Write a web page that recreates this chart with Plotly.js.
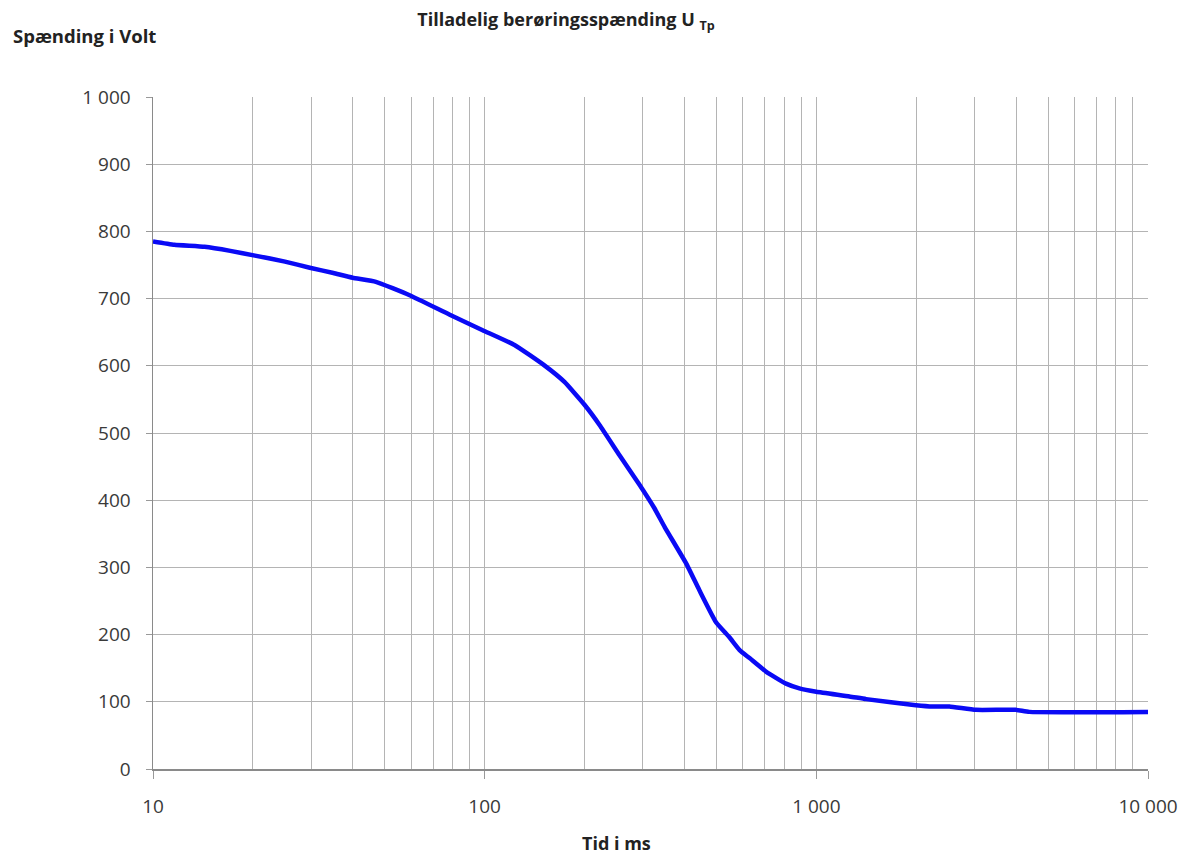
<!DOCTYPE html>
<html>
<head>
<meta charset="utf-8">
<script src="https://cdn.plot.ly/plotly-3.0.1.min.js"></script>
<style>html,body{margin:0;padding:0;background:#fff;}#chart{width:1184px;height:856px;}</style>
</head>
<body>
<div id="chart"></div>
<script>
// Time in ms and permissible touch voltage in V
const timeMs = [10, 11.6, 14.3, 17.1, 20.3, 25, 29.7, 35, 40, 47, 59.4, 78.5, 98.6, 123, 151, 174, 200, 222, 255, 293, 325, 349, 405, 444, 499, 547, 587, 629, 705, 810, 889, 1000, 1259, 1413, 1996, 2250, 2520, 3027, 3990, 4385, 10000];
const voltage = [785, 780, 777, 771, 764, 755, 746, 738, 731, 725, 705, 676, 653, 631, 601, 576, 542, 512, 467, 423, 388, 360, 306, 266, 218, 196, 177, 165, 145, 127, 120, 115, 108, 104, 95, 93, 93, 88, 88, 85, 85];

const xMajor = [10, 100, 1000, 10000];
const xMajorText = ["10", "100", "1 000", "10 000"];
const xMinor = [20,30,40,50,60,70,80,90,200,300,400,500,600,700,800,900,2000,3000,4000,5000,6000,7000,8000,9000];
const yTicks = [0, 100, 200, 300, 400, 500, 600, 700, 800, 900, 1000];
const yTickText = ["0", "100", "200", "300", "400", "500", "600", "700", "800", "900", "1 000"];

const font = "'Open Sans', Lato, sans-serif";
const gridColor = "#b4b4b4";

const trace = {
  x: timeMs, y: voltage, type: "scatter", mode: "lines",
  line: {color: "#0a0af5", width: 4.5, shape: "spline", smoothing: 0.4},
  hoverinfo: "x+y"
};

const layout = {
  width: 1184, height: 856,
  margin: {l: 153, r: 36, t: 97, b: 87},
  paper_bgcolor: "#fff", plot_bgcolor: "#fff",
  showlegend: false,
  font: {family: font, size: 19, color: "#3a3a3a"},
  title: {
    text: "<b>Tilladelig berøringsspænding U <sub>Tp</sub></b>",
    font: {family: font, size: 18, color: "#222"},
    xref: "container", x: 566/1184, xanchor: "center",
    yref: "container", y: 1 - 20/856, yanchor: "middle"
  },
  xaxis: {
    type: "log", range: [1, 4],
    tickmode: "array", tickvals: xMajor, ticktext: xMajorText,
    showgrid: true, gridcolor: gridColor, gridwidth: 1,
    minor: {tickmode: "array", tickvals: xMinor, showgrid: true, gridcolor: gridColor, gridwidth: 1, ticks: ""},
    ticks: "outside", ticklen: 8, tickcolor: "#999", tickwidth: 1,
    ticklabelstandoff: 12,
    showline: true, linecolor: "#8a8a8a", linewidth: 1.5,
    zeroline: false, tickfont: {family: font, size: 19, color: "#3a3a3a"}
  },
  yaxis: {
    range: [0, 1000],
    tickmode: "array", tickvals: yTicks, ticktext: yTickText,
    showgrid: true, gridcolor: gridColor, gridwidth: 1,
    ticks: "outside", ticklen: 6, tickcolor: "#999", tickwidth: 1,
    ticklabelstandoff: 11,
    showline: true, linecolor: "#8a8a8a", linewidth: 1.5,
    zeroline: false, tickfont: {family: font, size: 19, color: "#3a3a3a"}
  },
  annotations: [
    {text: "<b>Spænding i Volt</b>", xref: "paper", yref: "paper",
     x: (11-153)/995, y: (769-35)/672, xanchor: "left", yanchor: "middle",
     showarrow: false, font: {family: font, size: 18.5, color: "#222"}},
    {text: "<b>Tid i ms</b>", xref: "paper", yref: "paper",
     x: (616-153)/995, y: (769-843)/672, xanchor: "center", yanchor: "middle",
     showarrow: false, font: {family: font, size: 18, color: "#222"}}
  ]
};

Plotly.newPlot("chart", [trace], layout, {displayModeBar: false, staticPlot: true});
</script>
</body>
</html>
